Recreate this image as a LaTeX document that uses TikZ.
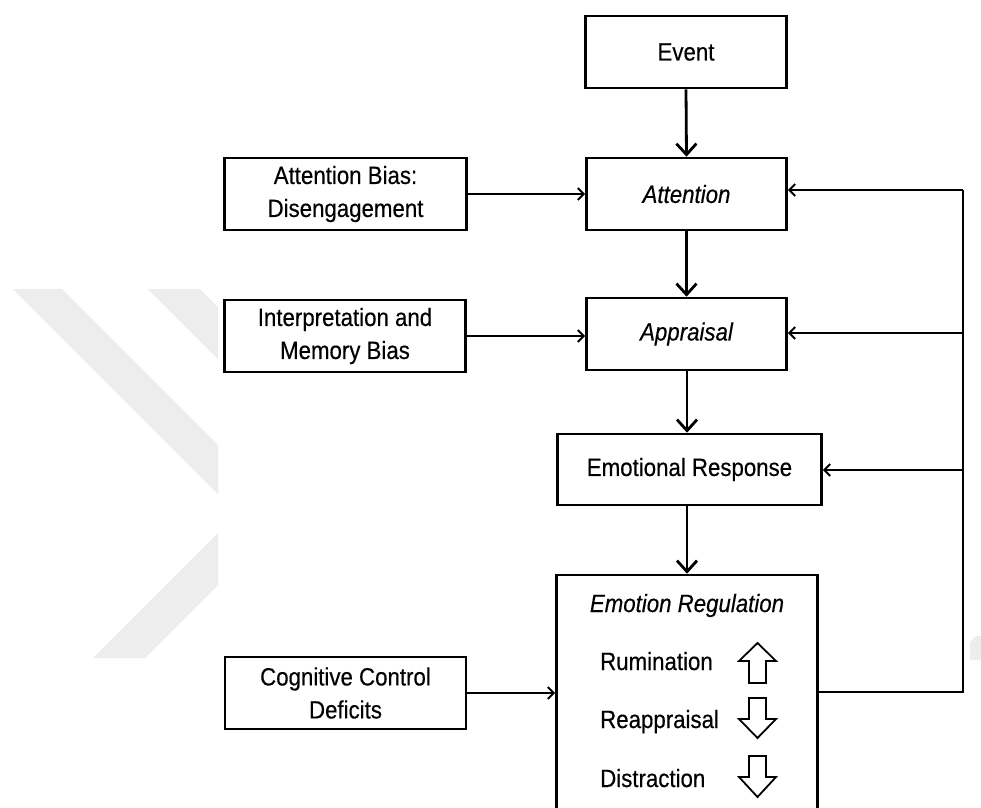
\documentclass[tikz,border=0pt]{standalone}
\usepackage{fontspec}
\setmainfont{Liberation Sans}[FakeStretch=0.89,FakeBold=0.35]
\usetikzlibrary{arrows.meta}
\definecolor{wmgray}{RGB}{237,237,237}
\begin{document}
\begin{tikzpicture}[x=1pt,y=-1pt,
  txt/.style={font={\fontsize{25}{33}\selectfont}, inner sep=0pt},
  box/.style={txt, draw, line width=2.6pt, align=center},
  mainarrow/.style={line width=2.8pt, -{Straight Barb[length=11pt,width=20pt]}},
  sidearrow/.style={line width=2pt, -{Straight Barb[length=6pt,width=12pt]}},
  fbline/.style={line width=2.8pt, line join=miter},
  blockarrow/.style={draw, line width=1.8pt, fill=white, line join=miter}]
\fill[white] (0,0) rectangle (981,807);
\useasboundingbox (0,0) rectangle (981,807);
\begin{scope}
\clip (0,0) rectangle (981,807);

% faint background mark
\fill[wmgray] (13,289) -- (62,289) -- (218,445) -- (218,494) -- cycle;
\fill[wmgray] (148,289) -- (200,289) -- (218,307) -- (218,359) -- cycle;
\fill[wmgray] (93,658) -- (145,658) -- (218,585) -- (218,533) -- cycle;
\fill[wmgray] (970,642) -- (976,636) -- (981,636) -- (981,660) -- (970,660) -- cycle;

% main chain
\node[box, minimum width=201, minimum height=72] (Event) at (686,52) {Event};
\node[box, minimum width=200, minimum height=72] (Att) at (686.5,194) {\itshape Attention};
\node[box, minimum width=200, minimum height=72] (App) at (686.5,334) {\itshape Appraisal};
\node[box, minimum width=264, minimum height=71] (Resp) at (689.5,469.5) {Emotional Response};
\node[box, minimum width=261, minimum height=320] (Reg) at (687,735) {};

% influences on the left
\node[box, minimum width=242, minimum height=72] (AttBias) at (345.5,194) {Attention Bias:\\Disengagement};
\node[box, minimum width=241, minimum height=72] (Interp) at (345,336) {Interpretation and\\Memory Bias};
\node[box, minimum width=241, minimum height=72] (Cog) at (345.5,693) {Cognitive Control\\Deficits};

% contents of the regulation box
\node[txt, anchor=base] (RegTitle) at (687,612) {\itshape Emotion Regulation};
\node[txt, anchor=base west] (Rum) at (600,670) {Rumination};
\node[txt, anchor=base west] (Reap) at (600,728) {Reappraisal};
\node[txt, anchor=base west] (Dist) at (600,787) {Distraction};

\path[blockarrow] (757.5,643) -- (776,661) -- (766,661) -- (766,683) -- (749,683) -- (749,661) -- (739,661) -- cycle;
\path[blockarrow] (757.5,738) -- (776,719) -- (766,719) -- (766,698) -- (749,698) -- (749,719) -- (739,719) -- cycle;
\path[blockarrow] (757.5,797) -- (776,777) -- (766,777) -- (766,756) -- (749,756) -- (749,777) -- (739,777) -- cycle;

% forward arrows
\draw[mainarrow] (Event.south) -- (Att.north);
\draw[mainarrow] (Att.south) -- (App.north);
\draw[mainarrow] (App.south -| 687,0) -- (Resp.north -| 687,0);
\draw[mainarrow] (Resp.south -| 687,0) -- (Reg.north);

\draw[sidearrow] (AttBias.east) -- (Att.west);
\draw[sidearrow] (Interp.east) -- (Interp.east -| App.west);
\draw[sidearrow] (Cog.east) -- (Cog.east -| Reg.west);

% feedback loop
\coordinate (fbBot) at (963,692);
\coordinate (fbA) at (963,190);
\coordinate (fbB) at (963,333);
\coordinate (fbC) at (963,470);
\draw[fbline] (Reg.east |- fbBot) -- (fbBot) -- (fbA);
\draw[sidearrow] (fbA) -- (Att.east |- fbA);
\draw[sidearrow] (fbB) -- (App.east |- fbB);
\draw[sidearrow] (fbC) -- (Resp.east |- fbC);
\end{scope}
\end{tikzpicture}
\end{document}
